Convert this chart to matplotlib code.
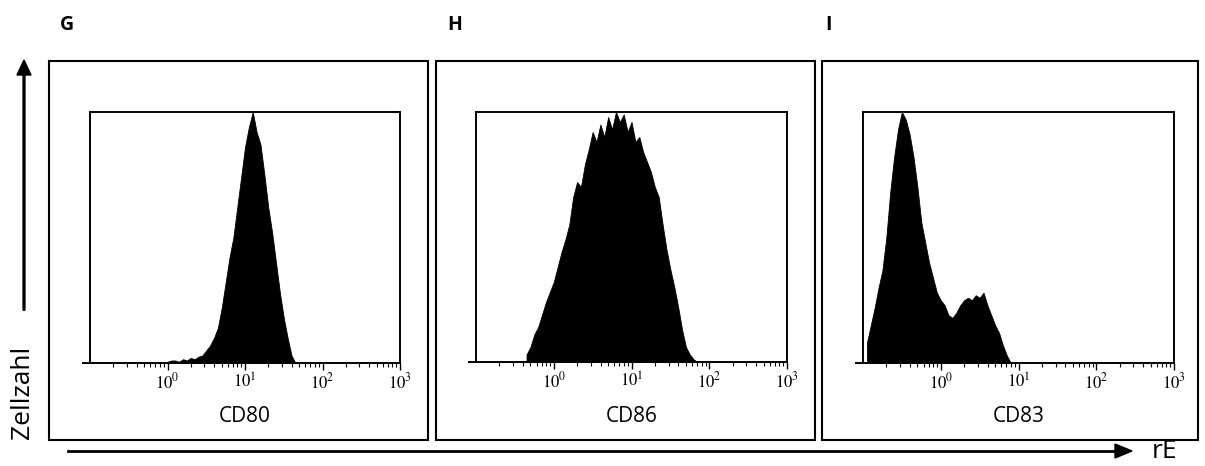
import numpy as np
import matplotlib
matplotlib.use("Agg")
import matplotlib.pyplot as plt
from matplotlib.patches import Rectangle, FancyArrow
from matplotlib.lines import Line2D
from matplotlib.ticker import LogLocator, FixedLocator, NullFormatter
import matplotlib.transforms as mtransforms

plt.rcParams['mathtext.fontset'] = 'stix'

# ---- data (log10 bin centres, relative cell counts) ----
panel_letters = ["G", "H", "I"]
markers = ["CD80", "CD86", "CD83"]

cd80_log = [0.00, 0.05, 0.10, 0.15, 0.20, 0.25, 0.30, 0.35, 0.40, 0.45, 0.50, 0.55,
            0.60, 0.65, 0.70, 0.75, 0.80, 0.85, 0.90, 0.95, 1.00, 1.05, 1.10, 1.15,
            1.20, 1.25, 1.30, 1.35, 1.40, 1.45, 1.50, 1.55, 1.60, 1.65]
cd80_cnt = [0.005, 0.01, 0.01, 0.005, 0.015, 0.01, 0.02, 0.015, 0.025, 0.03, 0.05, 0.07,
            0.10, 0.14, 0.22, 0.32, 0.42, 0.50, 0.62, 0.74, 0.86, 0.94, 1.00, 0.92,
            0.87, 0.75, 0.62, 0.52, 0.40, 0.28, 0.18, 0.10, 0.03, 0.0]

cd86_log = [-0.35, -0.30, -0.25, -0.20, -0.15, -0.10, -0.05, 0.00, 0.05, 0.10, 0.15,
            0.20, 0.25, 0.30, 0.35, 0.40, 0.45, 0.50, 0.55, 0.60, 0.65, 0.70, 0.75,
            0.80, 0.85, 0.90, 0.95, 1.00, 1.05, 1.10, 1.15, 1.20, 1.25, 1.30, 1.35,
            1.40, 1.45, 1.50, 1.55, 1.60, 1.65, 1.70, 1.75, 1.80, 1.85]
cd86_cnt = [0.03, 0.06, 0.11, 0.14, 0.19, 0.24, 0.28, 0.32, 0.38, 0.44, 0.49,
            0.55, 0.66, 0.72, 0.70, 0.79, 0.85, 0.92, 0.88, 0.95, 0.90, 0.98, 0.93,
            1.00, 0.96, 0.99, 0.92, 0.96, 0.88, 0.90, 0.84, 0.80, 0.76, 0.70, 0.66,
            0.55, 0.45, 0.37, 0.30, 0.22, 0.13, 0.06, 0.03, 0.01, 0.0]

cd83_log = [-0.95, -0.90, -0.85, -0.80, -0.75, -0.70, -0.65, -0.60, -0.55, -0.50,
            -0.45, -0.40, -0.35, -0.30, -0.25, -0.20, -0.15, -0.10, -0.05, 0.00,
            0.05, 0.10, 0.15, 0.20, 0.25, 0.30, 0.35, 0.40, 0.45, 0.50, 0.55,
            0.60, 0.65, 0.70, 0.75, 0.80, 0.85, 0.90]
cd83_cnt = [0.08, 0.15, 0.22, 0.30, 0.37, 0.50, 0.68, 0.82, 0.93, 1.00,
            0.97, 0.91, 0.82, 0.70, 0.56, 0.48, 0.40, 0.34, 0.28, 0.25,
            0.23, 0.19, 0.18, 0.20, 0.23, 0.25, 0.26, 0.25, 0.27, 0.26, 0.28,
            0.23, 0.19, 0.15, 0.12, 0.07, 0.03, 0.0]

series_log = [cd80_log, cd86_log, cd83_log]
series_cnt = [cd80_cnt, cd86_cnt, cd83_cnt]
tick_vals = [1, 10, 100, 1000]
tick_labels = [r"$10^{0}$", r"$10^{1}$", r"$10^{2}$", r"$10^{3}$"]

# ---- layout (pixels) ----
W, H = 1205, 466
fig = plt.figure(figsize=(W / 100, H / 100), dpi=100)

def fx(px):
    return px / W

def fy(py):
    return 1 - py / H

outer = [(49, 61, 428, 440), (436, 61, 815, 440), (822, 61, 1198, 440)]
inner = [(90, 112, 400, 363), (476, 112, 787, 362), (863, 112, 1174, 363)]
letter_x = [60, 447, 825]

for i in range(3):
    x0, y0, x1, y1 = outer[i]
    fig.patches.append(Rectangle((fx(x0), fy(y1)), fx(x1) - fx(x0), fy(y0) - fy(y1),
                                 transform=fig.transFigure, fill=False,
                                 edgecolor='black', linewidth=1.5))
    fig.text(fx(letter_x[i]), fy(25), panel_letters[i], fontsize=14, fontweight='bold',
             family='Open Sans', ha='left', va='center')

    a0, b0, a1, b1 = inner[i]
    ax = fig.add_axes([fx(a0), fy(b1), fx(a1) - fx(a0), fy(b0) - fy(b1)])
    logs = np.array(series_log[i])
    cnts = np.array(series_cnt[i])
    ax.fill_between(10 ** logs, cnts, 0, color='black', linewidth=0.6, edgecolor='black')
    ax.set_xscale('log')
    ax.set_xlim(0.1, 1000)
    ax.set_ylim(0, 1.0)
    ax.set_yticks([])
    ax.xaxis.set_major_locator(FixedLocator(tick_vals))
    ax.set_xticklabels(tick_labels, fontsize=12)
    ax.xaxis.set_minor_locator(LogLocator(base=10, subs=np.arange(2, 10)))
    ax.xaxis.set_minor_formatter(NullFormatter())
    ax.tick_params(axis='x', which='major', direction='out', length=5, width=1, pad=2)
    ax.tick_params(axis='x', which='minor', direction='out', length=3, width=0.8)
    for s in ax.spines.values():
        s.set_linewidth(1.4)
    ax.add_line(Line2D([-0.022, 0], [0, 0], transform=ax.transAxes, color='black',
                       linewidth=1.4, clip_on=False))
    tr = mtransforms.blended_transform_factory(ax.transAxes, fig.transFigure)
    ax.text(0.5, fy(416), markers[i], transform=tr,
            fontsize=15, family='Open Sans', ha='center', va='center')

# axis arrows
fig.add_artist(FancyArrow(fx(24), fy(310), 0, fy(60) - fy(310), width=0.0015,
                          head_width=fx(14), head_length=15 / H,
                          length_includes_head=True, color='black',
                          transform=fig.transFigure))
fig.add_artist(Line2D([fx(24), fx(24)], [fy(310), fy(72)], transform=fig.transFigure,
                      color='black', linewidth=1.5))
fig.add_artist(Line2D([fx(68), fx(1120)], [fy(451), fy(451)], transform=fig.transFigure,
                      color='black', linewidth=2))
fig.add_artist(FancyArrow(fx(1115), fy(451), fx(17), 0, width=0.0,
                          head_width=14 / H, head_length=fx(17),
                          length_includes_head=True, color='black',
                          transform=fig.transFigure))

fig.text(fx(23), fy(392), "Zellzahl", rotation=90, fontsize=19, family='Open Sans',
         ha='center', va='center')
fig.text(fx(1165), fy(452), "rE", fontsize=19, family='Open Sans',
         ha='center', va='center')

fig.savefig("out.png", dpi=100)
